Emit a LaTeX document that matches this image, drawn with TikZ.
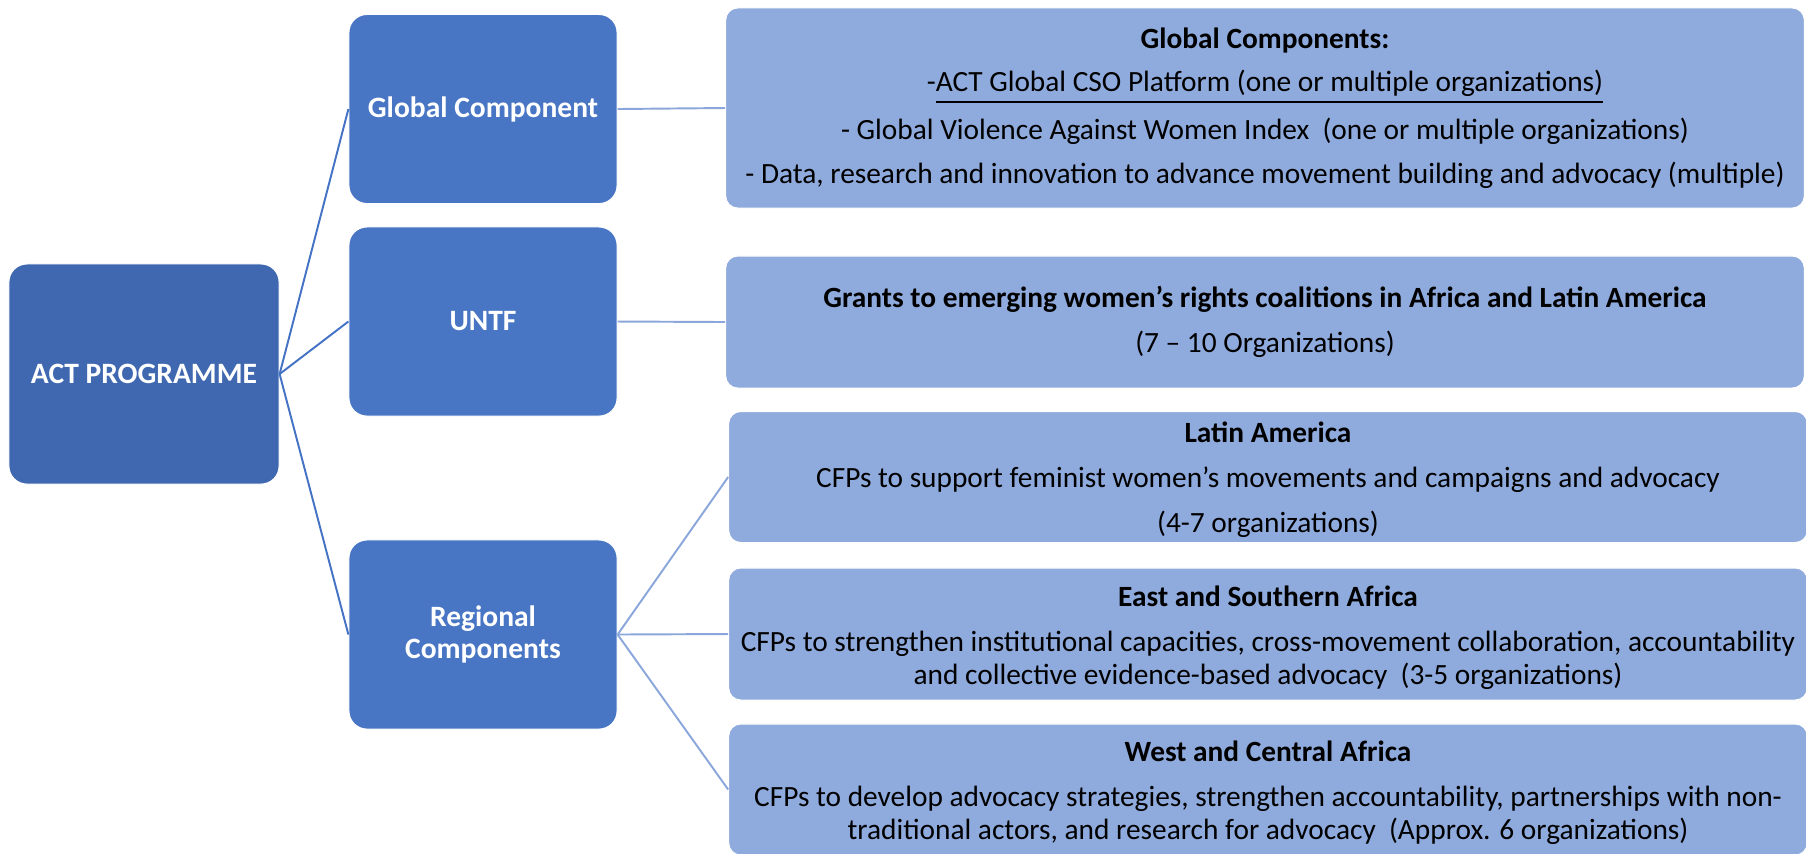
\documentclass[tikz,border=0pt]{standalone}
\usepackage{fontspec}
\setmainfont{Carlito}

\definecolor{progblue}{HTML}{3F68B0}
\definecolor{compblue}{HTML}{4876C4}
\definecolor{detailblue}{HTML}{8FAADC}
\definecolor{linkdark}{HTML}{4472C4}
\definecolor{linklight}{HTML}{8AA6DA}

\begin{document}
\begin{tikzpicture}[x=0.01cm,y=-0.01cm,
  prog/.style={fill=progblue,draw=white,line width=0.3pt,rounded corners=0.18cm,
    minimum width=2.70cm,minimum height=2.20cm,inner sep=0pt,align=center,
    text=white,font=\fontsize{8.4}{9.2}\selectfont\bfseries},
  comp/.style={prog,fill=compblue,minimum width=2.68cm,minimum height=1.89cm},
  detail/.style={fill=detailblue,draw=white,line width=0.3pt,rounded corners=0.12cm,
    minimum width=10.78cm,inner sep=0pt,align=center,
    font=\fontsize{8.35}{9.4}\selectfont},
  link/.style={draw=linkdark,line width=0.55pt},
  sublink/.style={draw=linklight,line width=0.55pt}]
\useasboundingbox (0,0) rectangle (1806,853);
\clip (0,0) rectangle (1806,853);

% programme and its three components
\node[prog] (act) at (144,374) {ACT PROGRAMME};
\node[comp] (glob) at (483,109) {Global Component};
\node[comp] (untf) at (483,321.5) {UNTF};
\node[comp] (reg) at (483,634.5) {Regional\\Components};

% details on the right
\node[detail,minimum height=2.00cm] (globdet) at (1265,108) {\textbf{Global Components:}\\[3.0pt]
  -\underline{ACT Global CSO Platform (one or multiple organizations)}\\[3.0pt]
  - Global Violence Against Women Index\ \ (one or multiple organizations)\\[3.0pt]
  - Data, research and innovation to advance movement building and advocacy (multiple)};
\node[detail,minimum height=1.32cm] (grants) at (1265,322) {\textbf{Grants to emerging women’s rights coalitions in Africa and Latin America}\\[3.4pt]
  (7 – 10 Organizations)};
\node[detail,minimum height=1.31cm] (latam) at (1268,477) {\rule{0pt}{7.5pt}\textbf{Latin America}\\[3.4pt]
  CFPs to support feminist women’s movements and campaigns and advocacy\\[3.4pt]
  (4-7 organizations)};
\node[detail,minimum height=1.32cm] (esa) at (1268,634) {\rule{0pt}{8pt}\textbf{East and Southern Africa}\\[3.2pt]
  CFPs to strengthen institutional capacities, cross-movement collaboration, accountability\\
  and collective evidence-based advocacy\ \ (3-5 organizations)};
\node[detail,minimum height=1.31cm] (wca) at (1268,789.5) {\rule{0pt}{7.5pt}\textbf{West and Central Africa}\\[3.4pt]
  CFPs to develop advocacy strategies, strengthen accountability, partnerships with non-\\
  traditional actors, and research for advocacy\ \ (Approx. 6 organizations)};

% connectors
\foreach \c in {glob,untf,reg}
  \draw[link] (act.east) -- (\c.west);
\draw[sublink] (glob.east) -- (globdet.west);
\draw[sublink] (untf.east) -- (grants.west);
\foreach \d in {latam,esa,wca}
  \draw[sublink] (reg.east) -- (\d.west);
\end{tikzpicture}
\end{document}
